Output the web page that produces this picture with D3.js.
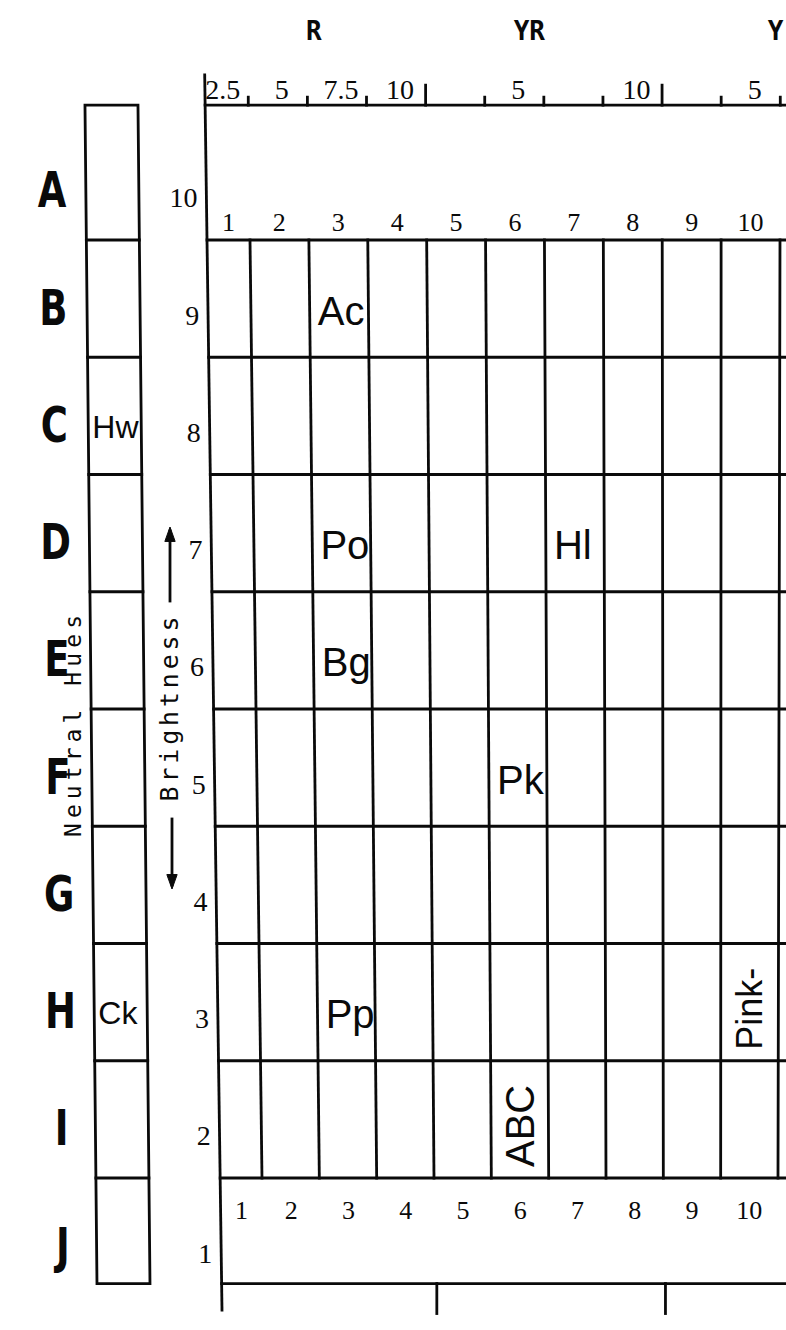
<!DOCTYPE html>
<html><head><meta charset="utf-8">
<script src="https://cdn.jsdelivr.net/npm/d3@7"></script>
<style>body{margin:0;background:#fff}svg{display:block}</style>
</head><body>
<svg id="c" width="786" height="1330"></svg>
<script>
// ---------------- data ----------------
const families = ["R", "YR", "Y"];
const familyLabelHue = [5.3, 4.4, 4.8];
const hueValues = [2.5, 5, 7.5, 10];
const hueLabelFamilies = ["R", "R", "R", "R", "YR", "YR", "Y"];
const hueLabelValues = [2.5, 5, 7.5, 10, 5, 10, 5];
const hueLabelTexts = ["2.5", "5", "7.5", "10", "5", "10", "5"];
const brightness = [10, 9, 8, 7, 6, 5, 4, 3, 2, 1];
const neutralRows = ["A", "B", "C", "D", "E", "F", "G", "H", "I", "J"];
const columns = [1, 2, 3, 4, 5, 6, 7, 8, 9, 10];
const cellLabels = [
  {text: "Ac", col: 3, b: 9, rot: false},
  {text: "Po", col: 3, b: 7, rot: false},
  {text: "Bg", col: 3, b: 6, rot: false},
  {text: "Hl", col: 7, b: 7, rot: false},
  {text: "Pk", col: 6, b: 5, rot: false},
  {text: "Pp", col: 3, b: 3, rot: false},
  {text: "ABC", col: 6, b: 2, rot: true},
  {text: "Pink-", col: 10, b: 3, rot: true}
];
const neutralLabels = [{text: "Hw", row: "C"}, {text: "Ck", row: "H"}];

// ---------------- scales ----------------
const svg = d3.select("#c");
const INK = "#0a0a0a";
const SW = 2.8;
const y = d3.scaleLinear().domain([9.5, 1.5]).range([240, 1178]);
const xTop = d3.scaleLinear().domain([1, 10]).range([250, 780]);
const xBot = d3.scaleLinear().domain([1, 10]).range([262, 778]);
const LEFT = 0.27;
const gy0 = y(9.5), gy1 = y(1.5);
const boxTop = y(10.65), boxBot = y(0.6);
function gx(b, yy) {
  const t = (yy - gy0) / (gy1 - gy0);
  return xTop(b) + (xBot(b) - xTop(b)) * t;
}
const colLeft = c => c === 1 ? LEFT : c - 1;
const colCenter = c => (colLeft(c) + c) / 2;
const famIndex = f => families.indexOf(f);
const hueToB = (f, v) => (famIndex(f) * 10 + v) / 2.5;
const nx = yy => 85 + (yy - 107) * 12 / 1178;
const NW = 53;

const g = svg.append("g").attr("stroke", INK).attr("stroke-width", SW).attr("fill", "none").attr("stroke-linecap", "square");

// ---------------- grid ----------------
g.append("line").attr("x1", gx(LEFT, 75)).attr("y1", 75).attr("x2", gx(LEFT, 1310)).attr("y2", 1310);
columns.forEach(c => {
  g.append("line").attr("x1", gx(c, gy0)).attr("y1", gy0).attr("x2", gx(c, gy1)).attr("y2", gy1);
});
const rowBounds = d3.range(9.5, 1.4, -1);
rowBounds.forEach(b => {
  const yy = y(b);
  g.append("line").attr("x1", gx(LEFT, yy)).attr("y1", yy).attr("x2", 786).attr("y2", yy);
});
g.append("line").attr("x1", gx(LEFT, boxTop)).attr("y1", boxTop).attr("x2", 786).attr("y2", boxTop);
g.append("line").attr("x1", gx(LEFT, boxBot)).attr("y1", boxBot).attr("x2", 786).attr("y2", boxBot);

const hueTicks = [];
families.forEach(f => hueValues.forEach(v => {
  const b = hueToB(f, v);
  if (b <= 10.2) hueTicks.push({b, major: v === 10});
}));
hueTicks.forEach(t => {
  const xx = gx(t.b, boxTop);
  g.append("line").attr("x1", xx).attr("y1", boxTop).attr("x2", xx).attr("y2", boxTop - (t.major ? 20 : 8));
});
hueTicks.filter(t => t.major).forEach(t => {
  const xx = gx(t.b, boxBot) + 2;
  g.append("line").attr("x1", xx).attr("y1", boxBot).attr("x2", xx).attr("y2", boxBot + 30);
});

// ---------------- neutral column ----------------
g.append("path").attr("d", d3.line()([
  [nx(boxTop), boxTop], [nx(boxTop) + NW, boxTop], [nx(boxBot) + NW, boxBot], [nx(boxBot), boxBot], [nx(boxTop), boxTop]
]));
rowBounds.forEach(b => {
  const yy = y(b);
  g.append("line").attr("x1", nx(yy)).attr("y1", yy).attr("x2", nx(yy) + NW).attr("y2", yy);
});

// ---------------- text ----------------
const T = svg.append("g").attr("fill", INK);
const MONO = "'DejaVu Sans Mono', 'Liberation Mono', monospace";
const SERIF = "'Liberation Serif', 'DejaVu Serif', serif";
const SANS = "'Liberation Sans', Arial, sans-serif";

families.forEach((f, i) => {
  const b = hueToB(f, familyLabelHue[i]);
  T.append("text").attr("x", gx(b, 38)).attr("y", 40).attr("text-anchor", "middle")
    .attr("font-family", MONO).attr("font-weight", "bold").attr("font-size", 26).text(f);
});
hueLabelTexts.forEach((txt, i) => {
  const b = hueToB(hueLabelFamilies[i], hueLabelValues[i]) - 0.5;
  T.append("text").attr("x", gx(b, 100) + 4).attr("y", 99).attr("text-anchor", "middle")
    .attr("font-family", SERIF).attr("font-size", 28).text(txt);
});
columns.forEach(c => {
  T.append("text").attr("x", gx(colCenter(c), 231)).attr("y", 231).attr("text-anchor", "middle")
    .attr("font-family", SERIF).attr("font-size", 26).text(c);
  T.append("text").attr("x", gx(colCenter(c), 1219)).attr("y", 1219).attr("text-anchor", "middle")
    .attr("font-family", SERIF).attr("font-size", 26).text(c);
});
brightness.forEach(b => {
  const yy = y(b) + 26;
  T.append("text").attr("x", gx(LEFT, yy) - 9).attr("y", yy).attr("text-anchor", "end")
    .attr("font-family", SERIF).attr("font-size", 28).text(b);
});
neutralRows.forEach((r, i) => {
  const yy = y(brightness[i]) + 26;
  const xx = nx(yy) - 34;
  T.append("text").attr("transform", `translate(${xx},${yy}) scale(0.74,1)`).attr("text-anchor", "middle")
    .attr("font-family", "'DejaVu Sans', sans-serif").attr("font-weight", "bold").attr("font-size", 50).text(r);
});
neutralLabels.forEach(d => {
  const b = brightness[neutralRows.indexOf(d.row)];
  const yy = y(b) + 22;
  T.append("text").attr("x", nx(yy) + 4).attr("y", yy).attr("font-family", SANS).attr("font-size", 32).text(d.text);
});
cellLabels.forEach(d => {
  if (!d.rot) {
    const yy = y(d.b) + 26;
    T.append("text").attr("x", gx(colLeft(d.col), yy) + 8).attr("y", yy)
      .attr("font-family", SANS).attr("font-size", 40).text(d.text);
  } else {
    const fs = d.text.length > 3 ? 36 : 40;
    const yy = y(d.b - 0.5) - 11;
    const xx = gx(colCenter(d.col), yy) + fs * 0.36;
    T.append("text").attr("transform", `translate(${xx},${yy}) rotate(-90)`)
      .attr("font-family", SANS).attr("font-size", fs).text(d.text);
  }
});
const bc = (y(7) + y(4)) / 2;
T.append("text").attr("transform", `translate(178,${bc}) rotate(-90)`).attr("text-anchor", "middle")
  .attr("font-family", MONO).attr("font-size", 25).attr("textLength", 185).attr("lengthAdjust", "spacing").text("Brightness");
g.append("line").attr("x1", 170).attr("y1", bc - 108).attr("x2", 170).attr("y2", bc - 178);
g.append("path").attr("fill", INK).attr("stroke-width", 1).attr("d", `M165,${bc - 168} L170,${bc - 182} L175,${bc - 168} Z`);
g.append("line").attr("x1", 172).attr("y1", bc + 110).attr("x2", 172).attr("y2", bc + 176);
g.append("path").attr("fill", INK).attr("stroke-width", 1).attr("d", `M167,${bc + 166} L172,${bc + 180} L177,${bc + 166} Z`);

const nc = (y(6) + y(5)) / 2 + 17;
T.append("text").attr("transform", `translate(81,${nc}) rotate(-90)`).attr("text-anchor", "middle")
  .attr("font-family", MONO).attr("font-size", 23).attr("textLength", 222).attr("lengthAdjust", "spacing").text("Neutral Hues");
</script>
</body></html>
